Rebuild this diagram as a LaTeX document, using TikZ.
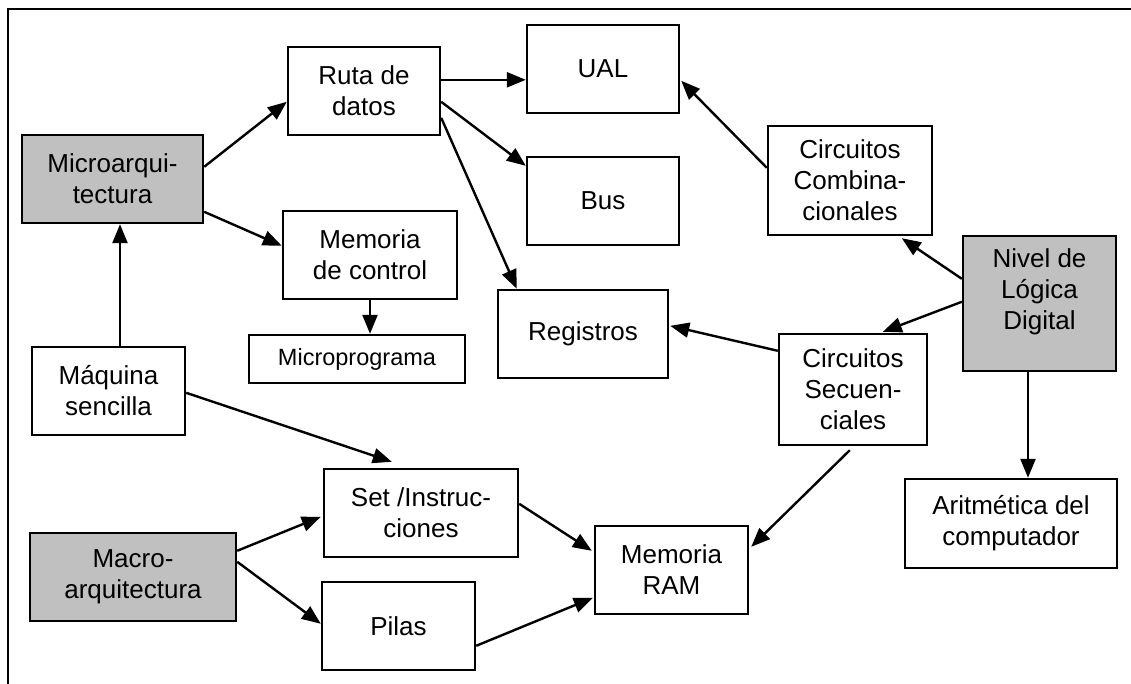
\documentclass[tikz,border=0pt]{standalone}
\usepackage{fontspec}
\setmainfont{Liberation Sans}
\usetikzlibrary{calc,arrows.meta}
\definecolor{boxgray}{HTML}{C0C0C0}
\tikzset{
  box/.style={draw=black, line width=2.4pt, fill=white, inner sep=0pt, align=center,
    font=\fontsize{26}{31}\selectfont},
  graybox/.style={box, fill=boxgray},
  conn/.style={line width=2.4pt, -{Triangle[length=19pt,width=15pt]}},
  frame/.style={line width=2.4pt}
}
\begin{document}
\begin{tikzpicture}[x=1pt,y=-1pt]
\useasboundingbox (0,0) rectangle (1131,684);
\coordinate (ftl) at (8,9);
\coordinate (ftr) at (1131,9);
\coordinate (fbl) at (8,684);
\draw[frame] (ftr) -- (ftl) -- (fbl);

\node[graybox, minimum width=181, minimum height=88] (micro) at (112.5,179) {Microarqui-\\tectura};
\node[box, minimum width=152, minimum height=88] (ruta) at (364,91) {Ruta de\\datos};
\node[box, minimum width=152, minimum height=88] (ual) at (603,69) {UAL};
\node[box, minimum width=152, minimum height=88] (bus) at (603,201) {Bus};
\node[box, minimum width=164, minimum height=109] (comb) at (850,180.5) {Circuitos\\Combina-\\cionales};
\node[graybox, minimum width=153, minimum height=135, text depth=28pt] (nivel) at (1039.5,303.5) {Nivel de\\Lógica\\Digital};
\node[box, minimum width=148, minimum height=111] (sec) at (853,389.5) {Circuitos\\Secuen-\\ciales};
\node[box, minimum width=170, minimum height=88] (reg) at (583,334) {Registros};
\node[box, minimum width=174, minimum height=88] (memc) at (370,255) {Memoria\\de control};
\node[box, minimum width=216, minimum height=48, font=\fontsize{23.5}{28}\selectfont] (mprog) at (357,359) {Microprograma};
\node[box, minimum width=153, minimum height=88] (maq) at (108.5,391) {Máquina\\sencilla};
\node[box, minimum width=194, minimum height=88] (set) at (421,513) {Set /Instruc-\\ciones};
\node[box, minimum width=153, minimum height=88] (pilas) at (398.5,626) {Pilas};
\node[graybox, minimum width=206, minimum height=88] (macro) at (133,577) {Macro-\\arquitectura};
\node[box, minimum width=153, minimum height=88] (ram) at (671.5,570) {Memoria\\RAM};
\node[box, minimum width=212, minimum height=89] (arit) at (1011,523.5) {Aritmética del\\computador};

% micro -> ruta
\draw[conn] ($(micro.north east)+(0,33)$) -- ($(ruta.north west)+(0,56)$);
% micro -> memoria de control
\draw[conn] ($(micro.north east)+(0,78)$) -- ($(memc.north west)+(0,36)$);
% maquina -> micro
\coordinate (m1) at ($(maq.north)+(11.5,0)$);
\draw[conn] (m1) -- (m1 |- micro.south);
% memoria de control -> microprograma
\draw[conn] (memc.south) -- (memc.south |- mprog.north);
% ruta -> ual
\coordinate (r1) at ($(ruta.north east)+(0,34)$);
\draw[conn] (r1) -- (r1 -| ual.west);
% ruta -> bus
\draw[conn] ($(ruta.north east)+(0,56)$) -- ($(bus.north west)+(0,10)$);
% ruta -> registros
\draw[conn] ($(ruta.north east)+(0,72)$) -- ($(reg.north west)+(20,0)$);
% comb -> ual
\draw[conn] ($(comb.north west)+(0,43)$) -- ($(ual.north east)+(1,57)$);
% nivel -> comb
\draw[conn] ($(nivel.north west)+(0,44)$) -- ($(comb.south west)+(135,2)$);
% nivel -> sec
\draw[conn] ($(nivel.north west)+(0,67)$) -- ($(sec.north west)+(105,-1)$);
% sec -> registros
\draw[conn] ($(sec.north west)+(0,18)$) -- ($(reg.north east)+(1,37)$);
% nivel -> aritmetica
\coordinate (n1) at ($(nivel.south)+(-11.5,0)$);
\draw[conn] (n1) -- (n1 |- arit.north);
% maquina -> set
\draw[conn] ($(maq.north east)+(0,47)$) -- ($(set.north west)+(69,-6)$);
% macro -> set
\draw[conn] ($(macro.north east)+(0,19)$) -- ($(set.north west)+(-2,49)$);
% macro -> pilas
\draw[conn] ($(macro.north east)+(0,30)$) -- ($(pilas.north west)+(0,43)$);
% set -> ram
\draw[conn] ($(set.north east)+(0,36)$) -- ($(ram.north west)+(-2,26)$);
% pilas -> ram
\draw[conn] ($(pilas.north east)+(0,65)$) -- ($(ram.north west)+(-1,73)$);
% sec -> ram
\draw[conn] ($(sec.south west)+(72,4)$) -- ($(ram.north east)+(2,22)$);
\end{tikzpicture}
\end{document}
